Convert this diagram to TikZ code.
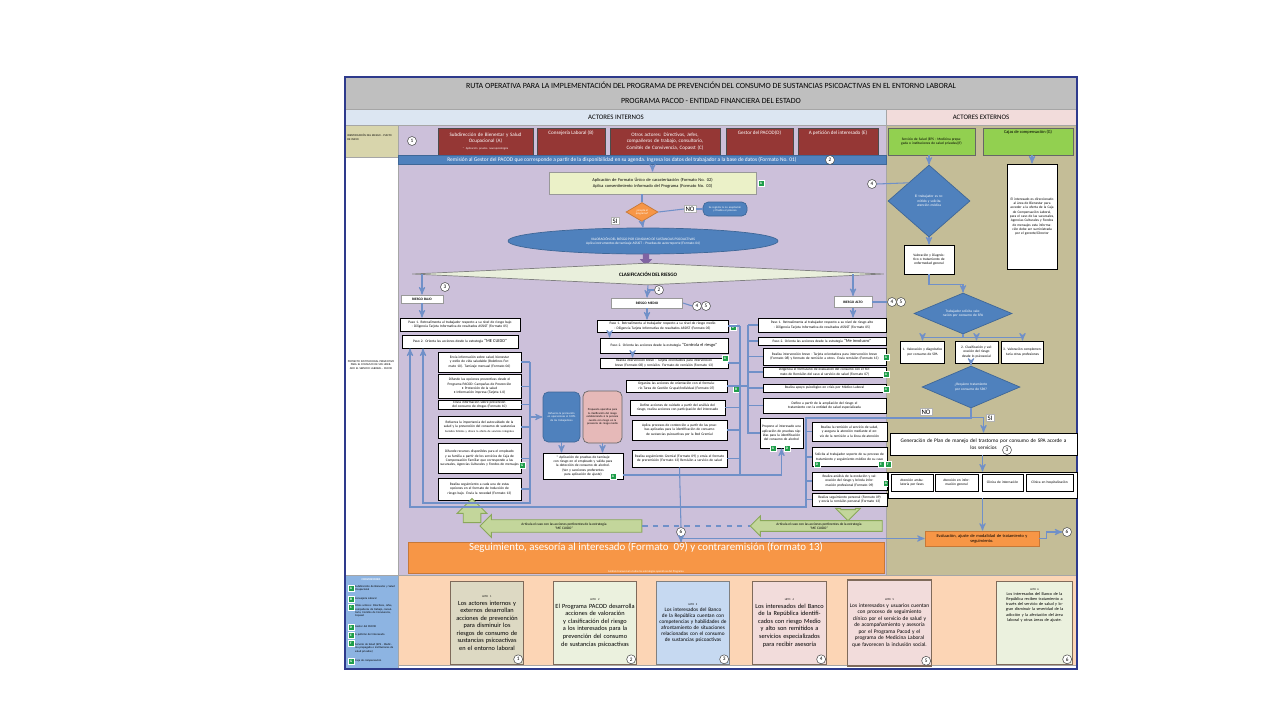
\documentclass[tikz,border=0pt]{standalone}
\usepackage{fontspec}
\setmainfont{Carlito}
\usetikzlibrary{shapes,arrows,positioning,calc}

\definecolor{hdrgray}{HTML}{BFBFBF}
\definecolor{intband}{HTML}{DCE6F2}
\definecolor{extband}{HTML}{F2DCDB}
\definecolor{olivecell}{HTML}{D8D5AC}
\definecolor{lavender}{HTML}{CCC0DA}
\definecolor{tanbg}{HTML}{C4BD97}
\definecolor{peach}{HTML}{FCD5B5}
\definecolor{convblue}{HTML}{8DB4E2}
\definecolor{actred}{HTML}{953735}
\definecolor{extgreen}{HTML}{92D050}
\definecolor{barblue}{HTML}{4F81BD}
\definecolor{aplgreen}{HTML}{EBF1C8}
\definecolor{orng}{HTML}{F79646}
\definecolor{linkblue}{HTML}{7090C8}
\definecolor{purp}{HTML}{8064A2}
\definecolor{clasfill}{HTML}{E9EFDC}
\definecolor{garrow}{HTML}{C3D69B}
\definecolor{garrowd}{HTML}{8AA85A}
\definecolor{pinkbox}{HTML}{E6B9B8}
\definecolor{sqgreen}{HTML}{1F9E4A}
\definecolor{framecol}{HTML}{2E3A8C}
\definecolor{hitotan}{HTML}{DDD9C3}
\definecolor{hitogreen}{HTML}{EBF1DE}
\definecolor{hitoblue}{HTML}{C6D9F1}
\definecolor{hitopink}{HTML}{F2DCDB}
\definecolor{hitoline}{HTML}{7F6A5A}

\newcommand\fmicro{\fontsize{1.6}{1.95}\selectfont}
\newcommand\ftiny{\fontsize{2}{2.45}\selectfont}
\newcommand\fsm{\fontsize{2.5}{3}\selectfont}
\newcommand\fbar{\fontsize{3.1}{3.6}\selectfont}
\newcommand\fact{\fontsize{2.9}{3.5}\selectfont}
\newcommand\fband{\fontsize{3.9}{4.6}\selectfont}
\newcommand\ftitle{\fontsize{4.5}{5.3}\selectfont}
\newcommand\fhito{\fontsize{3.6}{4.3}\selectfont}
\newcommand\fbig{\fontsize{6.2}{7.2}\selectfont}

\tikzset{
    sz/.style 2 args={
           minimum width=#1*0.02cm,
           minimum height=#2*0.02cm,
           text width=#1*0.02cm-1.6pt
           },
    wbox/.style={
           rectangle, draw=black, fill=white, line width=0.5pt,
           inner sep=0.5pt, align=center, font=\ftiny
           },
    actor/.style={
           rectangle, draw=black!70, fill=actred, text=white,
           inner sep=0.8pt, align=center, font=\fact
           },
    ext/.style={
           rectangle, draw=black!60, fill=extgreen,
           inner sep=0.8pt, align=center, font=\ftiny
           },
    toplbl/.style={
           anchor=north, inner sep=1.5pt, align=center
           },
    bluesh/.style={
           draw=barblue!80!black, fill=barblue, text=white,
           inner sep=0.5pt, align=center, font=\ftiny
           },
    dia/.style={
           diamond, bluesh, inner sep=0pt
           },
    num/.style={
           circle, draw=black!70, fill=white, line width=0.3pt,
           inner sep=0pt, minimum size=0.18cm, font=\fontsize{3}{3}\selectfont
           },
    gsq/.style={
           rectangle, fill=sqgreen, draw=white, line width=0.25pt, text=white,
           inner sep=0pt, minimum size=0.13cm, font=\fontsize{2}{2}\selectfont\bfseries
           },
    lbl/.style={
           rectangle, fill=white, draw=black!30, line width=0.2pt,
           inner sep=0.8pt, font=\fband
           },
    conn/.style={
           draw=linkblue, line width=0.6pt
           },
    garr/.style={
           single arrow, draw=garrowd, fill=garrow, line width=0.5pt,
           single arrow head extend=0.08cm, inner sep=0.5pt,
           align=center, font=\ftiny
           },
    hito/.style={
           rectangle, draw=hitoline, line width=0.9pt, inner sep=1pt,
           align=center, font=\fhito
           },
    conv/.style={
           anchor=west, text width=0.8cm, align=left, inner sep=0.5pt, font=\fmicro
           }
}

\begin{document}
\begin{tikzpicture}[x=0.02cm, y=-0.02cm, >=stealth']
   \useasboundingbox (0,0) rectangle (1280,720);
   \fill[white] (0,0) rectangle (1280,720);
   % fondos
   \fill[hdrgray] (345,77) rectangle (1077,109);
   \fill[intband] (345,109) rectangle (886,125);
   \fill[extband] (886,109) rectangle (1077,125);
   \fill[olivecell] (345,125) rectangle (398,157);
   \fill[lavender] (398,125) rectangle (886,575);
   \fill[tanbg] (886,125) rectangle (1077,575);
   \fill[peach] (398,575) rectangle (1077,665);
   \fill[convblue] (345,575) rectangle (398,669);
   \draw[black!35, line width=0.3pt] (345,109) -- (1077,109) (345,125) -- (1077,125)
        (345,157) -- (398,157) (398,125) -- (398,669) (886,109) -- (886,575)
        (345,575) -- (1077,575) (398,665) -- (1077,665);
   \draw[framecol, line width=0.9pt] (345,77) rectangle (1077,669);

   % encabezado
   \node[font=\ftitle] (tit1) at (711,85) {RUTA OPERATIVA PARA LA IMPLEMENTACIÓN DEL PROGRAMA DE PREVENCIÓN DEL CONSUMO DE SUSTANCIAS PSICOACTIVAS EN EL ENTORNO LABORAL};
   \node[font=\ftitle] (tit2) at (711,101) {PROGRAMA PACOD - ENTIDAD FINANCIERA DEL ESTADO};
   \node[font=\fband] (aint) at (616,117) {ACTORES INTERNOS};
   \node[font=\fband] (aext) at (981,117) {ACTORES EXTERNOS};
   \node[font=\fmicro, align=left, text width=0.95cm, anchor=north west, inner sep=0pt] (ident) at (347,134) {IDENTIFICACIÓN DEL RIESGO - PUNTO DE INICIO};
   \node[font=\fmicro, align=center, text width=0.95cm] (proy) at (371,365) {PROYECTO INSTITUCIONAL PREVENTIVO PARA EL CONSUMO DE SPA LIDERADO EL SERVICIO LABORAL - PACOD};

   % actores
   \node[num] (n1) at (412,141) {1};
   \node[actor, sz={95}{27}] (actA) at (485.5,141.5) {Subdirección de Bienestar y Salud\\ Ocupacional (A)\\[0.6pt]{\fmicro * Aplicación prueba neuropsicológica}};
   \node[actor, sz={68}{27}, label={[toplbl, text=white, font=\fact]north:Consejería Laboral (B)}] (actB) at (571,141.5) {};
   \node[actor, sz={110}{27}] (actC) at (665,141.5) {Otros actores: Directivos, Jefes,\\ compañeros de trabajo, consultorio,\\ Comités de Convivencia, Copasst (C)};
   \node[actor, sz={67}{27}, label={[toplbl, text=white, font=\fact]north:Gestor del PACOD(D)}] (actD) at (759.5,141.5) {};
   \node[actor, sz={80}{27}, label={[toplbl, text=white, font=\fact]north:A petición del interesado (E)}] (actE) at (838,141.5) {};
   \node[ext, sz={87}{27}] (extF) at (931.5,141.5) {Servicio de Salud (EPS - Medicina prepagada o instituciones de salud privadas)(F)};
   \node[ext, sz={90}{27}, label={[toplbl, font=\fsm]north:Cajas de compensación (G)}] (extG) at (1028,141.5) {};

   \node[bluesh, minimum width=9.76cm, minimum height=0.17cm, inner sep=0pt, font=\fbar] (rem) at (642,160) {Remisión al Gestor del PACOD que corresponde a partir de la disponibilidad en su agenda. Ingresa los datos del trabajador a la base de datos (Formato No. 01)\hspace*{0.8cm}};
   \node[num] (n2) at (830,160) {2};

   % valoracion y clasificacion
   \node[rectangle, draw=black!40, fill=aplgreen, sz={207}{22}, inner sep=0.5pt, align=center, font=\fsm] (apl) at (652.5,183) {Aplicación de Formato Único de caracterización (Formato No. 02)\\ Aplica consentimiento informado del Programa (Formato No. 03)};
   \node[gsq] (sq1) at (761,183) {A};
   \node[diamond, draw=orng!80!black, fill=orng, text=white, minimum width=0.64cm, minimum height=0.38cm, inner sep=0pt, align=center, font=\fmicro] (acep) at (642,212) {¿Acepta el\\ programa?};
   \node[lbl] (nol) at (690,209) {NO};
   \node[bluesh, rounded corners=3pt, sz={44}{14}, font=\fmicro] (nobox) at (725,209) {Se registra la no aceptación y finaliza el proceso};
   \node[lbl] (sil) at (615,221) {SI};
   \node[ellipse, bluesh, minimum width=5.4cm, minimum height=0.52cm] (val) at (643,241) {VALORACIÓN DEL RIESGO POR CONSUMO DE SUSTANCIAS PSICOACTIVAS\\ Aplica instrumentos de tamizaje ASSIST -- Pruebas de autorreporte (Formato 04)};
   \node[single arrow, shape border rotate=270, fill=purp, draw=purp, minimum height=0.22cm, single arrow head extend=0.05cm, inner sep=0pt] (parr) at (646,258) {\hspace*{0.1cm}};
   \node[diamond, draw=black!50, fill=clasfill, minimum width=9.44cm, minimum height=0.44cm, aspect=20, inner sep=0pt, font=\fact\bfseries] (clasif) at (648,274) {CLASIFICACIÓN DEL RIESGO};

   \node[wbox, draw=black!40, sz={42}{8}, font=\ftiny\bfseries] (bajo) at (422,299) {RIESGO BAJO};
   \node[wbox, draw=black!40, sz={71}{10}, font=\ftiny\bfseries] (medio) at (647,303) {RIESGO MEDIO};
   \node[wbox, draw=black!40, sz={38}{11}, font=\ftiny\bfseries] (alto) at (853,302) {RIESGO ALTO};
   \node[num] (n3) at (445,287) {3};
   \node[num] (n2b) at (659,290) {2};
   \node[num] (n4a) at (697,306) {4};
   \node[num] (n5a) at (706,306) {5};
   \node[num] (n4b) at (892,302) {4};
   \node[num] (n5b) at (901,302) {5};

   % riesgo bajo
   \node[wbox, sz={120}{13}] (b1) at (460,324.5) {Paso 1. Retroalimenta al trabajador respecto a su nivel de riesgo bajo\\ - Diligencia Tarjeta Informativa de resultados ASSIST (Formato 05)};
   \node[wbox, sz={116}{13}] (b2) at (460,341.5) {Paso 2. Orienta las acciones desde la estrategia {\fsm ``ME CUIDO''}};
   \node[wbox, sz={83}{20}] (b3) at (479.5,362) {Envía información sobre salud, bienestar y estilo de vida saludable (Boletines Formato 10). Tamizaje mensual (Formato 06)};
   \node[wbox, sz={83}{24}] (b4) at (479.5,386.5) {Difunde las opciones preventivas desde el Programa PACOD: Campañas de Prevención\\ • Protección de la salud\\ • Información impresa (Tarjeta 1.0)};
   \node[wbox, sz={83}{9}] (b5) at (479.5,404.5) {Envía información sobre prevención del consumo de drogas (Formato 10)};
   \node[wbox, sz={83}{22}] (b6) at (479.5,427) {Refuerza la importancia del autocuidado de la salud y la prevención del consumo de sustancias\\ {\fmicro Socializa folletos y ofrece la oferta de servicios integrales}};
   \node[wbox, sz={83}{30}] (b7) at (479.5,458.5) {Difunde recursos disponibles para el empleado y su familia a partir de los servicios de Caja de Compensación Familiar que corresponde a las sucursales, Agencias Culturales y Fondos de mensajes};
   \node[gsq] (sq2) at (522,465) {G};
   \node[wbox, sz={83}{22}] (b8) at (479.5,489) {Realiza seguimiento a cada una de estas opciones en el formato de Inducción de riesgo bajo. Envía la novedad (Formato 13)};

   \node[bluesh, rounded corners=3pt, sz={37}{50}, font=\fmicro] (prot) at (561.5,417) {Refuerza la promoción en operaciones al 100\% de los trabajadores};
   \node[rectangle, rounded corners=3pt, draw=black!60, fill=pinkbox, sz={39}{52}, inner sep=0.5pt, align=center, font=\fmicro] (prop) at (602.5,417) {Propuesta operativa para la clasificación del riesgo estableciendo si la persona cuenta con riesgo en la presencia de riesgo medio};
   \node[wbox, sz={80}{26}] (apb) at (583,466) {* Aplicación de pruebas de tamizaje con riesgo en el empleado y valida para la detección de consumo de alcohol.\\ (Ver y sanciones preferentes para aplicación de ajuste)};
   \node[gsq] (sq3) at (613,476) {A};

   % riesgo medio
   \node[wbox, sz={131}{12}] (m1) at (662.5,326) {Paso 1. Retroalimenta al trabajador respecto a su nivel de riesgo medio - Diligencia Tarjeta Informativa de resultados ASSIST (Formato 05)};
   \node[gsq] (sq4) at (733,327) {D};
   \node[wbox, sz={128}{15}] (m2) at (664,345.5) {Paso 2. Orienta las acciones desde la estrategia {\fsm ``Controla el riesgo''}};
   \node[wbox, sz={128}{10}] (m3) at (664,363) {Realiza intervención breve - Tarjeta orientadora para intervención breve (Formato 08) y remisión. Formato de remisión (Formato 13)};
   \node[gsq] (sq5) at (725,358) {A};
   \node[wbox, sz={101}{12}] (m4) at (676.5,386) {Organiza las acciones de orientación con el formulario Tarea de Gestión Grupal/Individual (Formato 07)};
   \node[gsq] (sq6) at (736,389) {B};
   \node[wbox, sz={95}{15}] (m5) at (677.5,407.5) {Define acciones de cuidado a partir del análisis del riesgo, realiza acciones con participación del interesado};
   \node[wbox, sz={95}{20}] (m6) at (679.5,430) {Aplica procesos de contención a partir de las pruebas aplicadas para la identificación de consumo de sustancias psicoactivas por la Red Gremial};
   \node[wbox, sz={95}{17}] (m7) at (679.5,458.5) {Realiza seguimiento Gremial (Formato 09) y envía el formato de preremisión (Formato 13) Remisión a servicio de salud};

   % riesgo alto
   \node[wbox, sz={128}{14}] (a1) at (822,325) {Paso 1. Retroalimenta al trabajador respecto a su nivel de riesgo alto - Diligencia Tarjeta Informativa de resultados ASSIST (Formato 05)};
   \node[wbox, sz={128}{8}] (a2) at (822,341) {Paso 2. Orienta las acciones desde la estrategia {\fsm ``Me involucro''}};
   \node[wbox, sz={123}{17}] (a3) at (824.5,356.5) {Realiza intervención breve - Tarjeta orientadora para intervención breve (Formato 08) y formato de remisión a otros. Envía remisión (Formato 13)};
   \node[gsq] (sq7) at (886,357) {A};
   \node[wbox, sz={123}{10}] (a4) at (824.5,372) {Diligencia el formulario de evaluación del consumo con el formato de Remisión del caso al servicio de salud (Formato 07)};
   \node[gsq] (sq8) at (886,374) {A};
   \node[wbox, sz={123}{8}] (a5) at (824.5,388) {Realiza apoyo psicológico en crisis por Médico Laboral};
   \node[gsq] (sq9) at (886,389) {A};
   \node[wbox, sz={123}{15}] (a6) at (824.5,405.5) {Define a partir de la ampliación del riesgo el tratamiento con la entidad de salud especializada};
   \node[wbox, sz={43}{30}] (a7) at (781.5,433) {Propone al interesado una aplicación de pruebas rápidas para la identificación del consumo de alcohol};
   \node[gsq] (sq10) at (773,448) {A};
   \node[gsq] (sq11) at (787,448) {D};
   \node[wbox, sz={75}{19}] (a8) at (849.5,431.5) {Realiza la remisión al servicio de salud, y asegura la atención mediante el envío de la remisión a la línea de atención};
   \node[wbox, sz={75}{19}] (a9) at (849.5,457) {Solicita al trabajador soporte de su proceso de tratamiento y seguimiento médico de su caso};
   \node[gsq] (sq12) at (817,464) {D};
   \node[gsq] (sq13) at (881,464) {E};
   \node[gsq] (sq14) at (888,464) {F};
   \node[wbox, sz={75}{18}] (a10) at (849.5,481) {Realiza análisis de la evolución y valoración del riesgo y brinda información profesional (Formato 09)};
   \node[gsq] (sq15) at (886,483) {A};
   \node[wbox, sz={75}{13}] (a11) at (849.5,499.5) {Realiza seguimiento personal (Formato 09) y envía la remisión personal (Formato 13)};

   % flechas verdes
   \node[garr, shape border rotate=90, minimum height=0.48cm, single arrow head extend=0.12cm] (upa) at (472,515) {\hspace*{0.3cm}};
   \node[garr, shape border rotate=180, minimum height=3.24cm, minimum width=0.46cm] (la1) at (564,526) {Articula el caso con las acciones pertinentes de la estrategia\\ ``ME CUIDO''};
   \node[garr, shape border rotate=180, minimum height=2.64cm, minimum width=0.4cm] (la2) at (819,526) {Articula el caso con las acciones pertinentes de la estrategia\\ ``ME CUIDO''};
   \node[garr, shape border rotate=270, minimum height=0.22cm, single arrow head extend=0.1cm] (da) at (848,511.5) {\hspace*{0.24cm}};
   \node[num] (c6) at (681,532) {6};
   \node[rectangle, fill=orng, draw=orng!80!black, minimum width=9.52cm, minimum height=0.54cm, text=white, align=center, inner sep=0pt] (seg) at (646,558) {{\fbig Seguimiento, asesoría al interesado (Formato\ \ 09) y contraremisión (formato 13)}\\[0.5pt] {\fmicro Análisis transversal a todas las estrategias operativas del Programa}};

   % actores externos
   \node[num] (c4) at (872,184) {4};
   \node[dia, aspect=1.1, minimum width=1.64cm, minimum height=1.44cm, text width=0.75cm] (d1) at (929,201) {El trabajador es remitido y solicita atención médica};
   \node[wbox, sz={50}{29}] (vdx) at (929,259.5) {Valoración y Diagnóstico o tratamiento de enfermedad general};
   \node[wbox, sz={50}{105}] (gtx) at (1032,216.5) {El interesado es direccionado al área de Bienestar para acceder a la oferta de la Caja de Compensación Laboral, para el caso de las sucursales, Agencias Culturales y Fondos de mensajes esta información debe ser suministrada por el gerente/Director};
   \node[dia, aspect=2.4, minimum width=1.96cm, minimum height=0.82cm, text width=0.9cm] (d2) at (963,313.5) {Trabajador solicita valoración por consumo de SPA};
   \node[wbox, sz={44}{22}] (t1) at (922.5,352) {1. Valoración y diagnóstico por consumo de SPA};
   \node[wbox, sz={43}{22}] (t2) at (976.5,352) {2. Clasificación y valoración del riesgo desde lo psicosocial};
   \node[wbox, sz={42}{22}] (t3) at (1022.5,352) {3. Valoración complementaria otras profesiones};
   \node[dia, aspect=2.4, minimum width=1.96cm, minimum height=0.84cm, text width=0.85cm] (d3) at (971,387) {¿Requiere tratamiento por consumo de SPA?};
   \node[lbl] (nol2) at (926,412) {NO};
   \node[lbl] (sil2) at (990,418) {SI};
   \node[wbox, sz={187}{22}, font=\fontsize{3}{3.7}\selectfont] (gen) at (983.5,444) {Generación de Plan de manejo del trastorno por consumo de SPA acorde a\\ los servicios};
   \node[num] (n3b) at (1007,450) {3};
   \node[wbox, sz={189}{26}] (row) at (982.5,485) {};
   \node[wbox, sz={42}{17}] (r1) at (912,482.5) {Atención ambulatoria por fases};
   \node[wbox, sz={43}{17}] (r2) at (956.5,482.5) {Atención en información general};
   \node[wbox, sz={41}{17}] (r3) at (1002.5,482.5) {Clínica de internación};
   \node[wbox, sz={47}{17}] (r4) at (1049.5,482.5) {Clínica en hospitalización};
   \node[rectangle, fill=orng, draw=orng!80!black, sz={114}{15}, inner sep=0.5pt, align=center, font=\fsm] (eval) at (982,538.5) {Evaluación, ajuste de modalidad de tratamiento y\\ seguimiento.};
   \node[num] (c6r) at (1067,532) {6};

   % convenciones
   \node[font=\fmicro\bfseries, text=white] (conv) at (371,580) {CONVENCIONES};
   \node[gsq] (cA) at (351,588) {A};
   \node[conv] (tA) at (354,588) {Subdirección de Bienestar y Salud Ocupacional};
   \node[gsq] (cB) at (351,599) {B};
   \node[conv] (tB) at (354,599) {Consejería Laboral};
   \node[gsq] (cC) at (351,607) {C};
   \node[conv] (tC) at (354,611) {Otros actores: Directivos, Jefes, compañeros de trabajo, consultorio, Comités de Convivencia, Copasst};
   \node[gsq] (cD) at (351,627) {D};
   \node[conv] (tD) at (354,627) {Gestor del PACOD};
   \node[gsq] (cE) at (351,635) {E};
   \node[conv] (tE) at (354,635) {A petición del interesado};
   \node[gsq] (cF) at (351,643) {F};
   \node[conv] (tF) at (354,648) {Servicio de Salud (EPS - Medicina prepagada o instituciones de salud privadas)};
   \node[gsq] (cG) at (351,661) {G};
   \node[conv] (tG) at (354,661) {Caja de compensación};

   % hitos
   \node[hito, fill=hitotan, sz={72}{83}] (h1) at (487,623) {{\fmicro HITO 1}\\ Los actores internos y externos desarrollan acciones de prevención para disminuir los riesgos de consumo de sustancias psicoactivas en el entorno laboral};
   \node[hito, fill=hitogreen, sz={82}{83}] (h2) at (595,623) {{\fmicro HITO 2}\\ El Programa PACOD desarrolla acciones de valoración y clasificación del riesgo a los interesados para la prevención del consumo de sustancias psicoactivas};
   \node[hito, fill=hitoblue, draw=black!50, sz={72}{83}, font=\fontsize{3}{3.4}\selectfont] (h3) at (693,623) {{\fmicro HITO 3}\\ Los interesados del Banco de la República cuentan con competencias y habilidades de afrontamiento de situaciones relacionadas con el consumo de sustancias psicoactivas};
   \node[hito, fill=hitopink, sz={73}{83}] (h4) at (789.5,623) {{\fmicro HITO 4}\\ Los interesados del Banco de la República identificados con riesgo Medio y alto son remitidos a servicios especializados para recibir asesoría};
   \node[hito, fill=hitopink, sz={83}{86}, font=\fontsize{3.1}{3.7}\selectfont] (h6) at (889.5,623) {{\fmicro HITO 5}\\ Los interesados y usuarios cuentan con proceso de seguimiento clínico por el servicio de salud y de acompañamiento y asesoría por el Programa Pacod y el programa de Medicina Laboral que favorecen la inclusión social.};
   \node[hito, fill=hitogreen, sz={75}{83}] (h5) at (1034.5,623) {};
   \node[font=\fontsize{2.4}{2.9}\selectfont, align=center, text width=1.4cm, below=1pt of h5.north] (h5t) {{\fmicro HITO 6}\\ Los interesados del Banco de la República reciben tratamiento a través del servicio de salud y logran disminuir la severidad de la adicción y la afectación del área laboral y otras áreas de ajuste.};
   \node[num, above left=1.5pt and 1.5pt of h1.south east] (h1n) {1};
   \node[num, above left=1.5pt and 1.5pt of h2.south east] (h2n) {2};
   \node[num, above left=1.5pt and 1.5pt of h3.south east] (h3n) {3};
   \node[num, above left=1.5pt and 1.5pt of h4.south east] (h4n) {4};
   \node[num, above left=1.5pt and 1.5pt of h6.south east] (h6n) {5};
   \node[num, above left=1.5pt and 1.5pt of h5.south east] (h5n) {6};

   % conectores
   \draw[conn,->] (rem.south -| apl.north) -- (apl.north);
   \draw[conn] (apl.south -| acep.north) -- (acep.north);
   \draw[conn] (acep.east) -- (nol.west);
   \draw[conn] (nol.east) -- (nobox.west);
   \draw[conn,->] (acep.south) -- (val.north);
   \draw[conn,->] (clasif.west -| bajo.north) -- (bajo.north);
   \draw[conn,->] (clasif.south) -- (medio.north);
   \draw[conn,->] (clasif.east -| alto.north) -- (alto.north);
   \draw[conn] (clasif.south |- n2b.west) -- (n2b.west);
   \draw[conn] (medio.east) -- (n4a.west);
   \draw[conn] (alto.east) -- (n4b.west);
   \draw[conn,->] (bajo.south) -- (bajo.south |- b1.north);
   \draw[conn,->] (medio.south) -- (medio.south |- m1.north);
   \draw[conn,->] (alto.south) -- (alto.south |- a1.north);

   \coordinate (bbr) at (530,503);
   \coordinate (lq) at (423,503);
   \coordinate (lpR) at (806,507);
   \coordinate (lpL) at (410,507);
   \draw[conn] (b3.east) -- (b3.east -| bbr) (b4.east) -- (b4.east -| bbr)
        (b5.east) -- (b5.east -| bbr) (b6.east) -- (b6.east -| bbr)
        (b7.east) -- (b7.east -| bbr) (b8.east) -- (b8.east -| bbr);
   \draw[conn,->] (b3.east -| bbr) -- (bbr) -- (lq) -- (lq |- b2.south);
   \draw[conn,->] (a11.west) -| (lpR) -- (lpL) -- (lpL |- b2.south);
   \draw[conn,->] (bbr |- prot.west) -- (prot.west);
   \draw[conn,->] (prot.south) -- (prot.south |- apb.north);
   \draw[conn,->] (prop.south) -- (prop.south |- apb.north);

   \coordinate (m12) at ($(m1.south west)+(13,0)$);
   \coordinate (m23) at ($(m2.south west)+(33,0)$);
   \draw[conn,->] (m12) -- (m12 |- m2.north);
   \draw[conn,->] (m23) -- (m23 |- m3.north);
   \coordinate (mbr) at (740,475);
   \draw[conn] (m1.east) -- (m1.east -| mbr) (m3.east) -- (m3.east -| mbr)
        (m4.east) -- (m4.east -| mbr) (m5.east) -- (m5.east -| mbr)
        (m6.east) -- (m6.east -| mbr) (m7.east) -- (m7.east -| mbr)
        (m1.east -| mbr) -- (mbr);
   \coordinate (apbr) at ($(apb.east)+(0,9)$);
   \draw[conn,->] (apbr) -| (a7.south);
   \coordinate (abr) at (748,433);
   \draw[conn] (a1.west) -- (a1.west -| abr) (a2.west) -- (a2.west -| abr)
        (a3.west) -- (a3.west -| abr) (a4.west) -- (a4.west -| abr)
        (a5.west) -- (a5.west -| abr) (a6.west) -- (a6.west -| abr)
        (a1.west -| abr) -- (abr) -- (a7.west) (m4.east -| mbr) -- (m4.east -| abr);
   \coordinate (nob) at (806,418);
   \draw[conn] (d3.south) |- (nob) -- (lpR);
   \draw[conn] (a8.west) -- (a8.west -| nob) (a9.west) -- (a9.west -| nob)
        (a10.west) -- (a10.west -| nob);
   \draw[conn,dashed] (la1.tail) -- (la2.tip);
   \draw[conn] (m7.south) -- (c6.north);
   \draw[conn,->] (c6.south) -- (c6.south |- seg.north);
   \draw[conn,->] (c6.south |- eval.west) -- (eval.west);

   \draw[conn,->] (d1.north |- extF.south) -- (d1.north);
   \draw[conn,->] (gtx.north |- extG.south) -- (gtx.north);
   \draw[conn] (c4.east) -- (d1.north west);
   \draw[conn,->] (d1.south) -- (vdx.north);
   \draw[conn,->] (vdx.south) -- ++(0,10) -| (d2.north);
   \coordinate (tr) at ($(d2.south)+(0,3)$);
   \draw[conn] (d2.south) -- (tr) (tr -| t1.north) -- (tr -| t3.north);
   \draw[conn,->] (tr -| t1.north) -- (t1.north);
   \draw[conn,->] (tr -| t2.north) -- (t2.north);
   \draw[conn,->] (tr -| t3.north) -- (t3.north);
   \draw[conn,->] (d3.north |- t2.south) -- (d3.north);
   \coordinate (siy) at ($(gen.north)+(0,-15)$);
   \draw[conn,->] (d3.south) |- (siy) -- (gen.north);
   \draw[conn,->] (gen.south -| row.north) -- (row.north);
   \draw[conn,->] (row.south) -- (row.south |- eval.north);
   \draw[conn,->] (eval.east) -- ++(7,0) |- (c6r.west);
\end{tikzpicture}
\end{document}
